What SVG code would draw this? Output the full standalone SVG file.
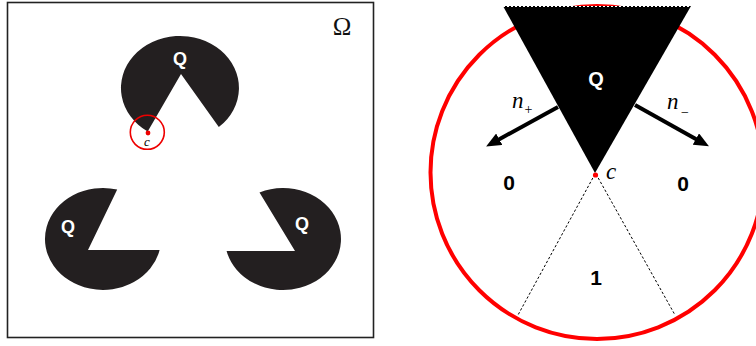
<svg xmlns="http://www.w3.org/2000/svg" width="756" height="346" viewBox="0 0 756 346">
<style>
.pac{fill:#231f20}
.ql{font-family:"Liberation Sans",Arial,sans-serif;font-weight:bold;fill:#fff;text-anchor:middle}
.num{font-family:"Liberation Sans",Arial,sans-serif;font-weight:bold;fill:#000;text-anchor:middle;font-size:21px}
.it{font-family:"Liberation Serif","Times New Roman",serif;font-style:italic;fill:#000}
.dot{stroke:#000;stroke-width:1;stroke-dasharray:2.5 2;fill:none}
.arr{stroke:#000;stroke-width:4;fill:none;marker-end:url(#head)}
</style>
<defs>
<marker id="head" viewBox="0 0 15 13" refX="2" refY="6.5" markerWidth="15" markerHeight="13" markerUnits="userSpaceOnUse" orient="auto">
<path d="M0,0 L15,6.5 L0,13 Z" fill="#000"/>
</marker>
</defs>
<rect x="0" y="0" width="756" height="346" fill="#fff"/>
<g id="left-panel">
<rect id="omega-frame" x="7.5" y="2.5" width="366" height="335" fill="none" stroke="#222" stroke-width="1.6"/>
<text x="342" y="35" font-family="'Liberation Serif','Times New Roman',serif" font-size="25" text-anchor="middle" fill="#111">Ω</text>
<g id="pac-top">
<path class="pac" d="M147.7 131.5 A59 52 0 1 1 218.8 127.1 L181 74 Z"/>
<text class="ql" x="180" y="65" font-size="18">Q</text>
</g>
<g id="pac-left">
<path class="pac" d="M117.2 189.5 A58 51 0 1 0 159.6 250 L88 250 Z"/>
<text class="ql" x="68" y="233" font-size="18">Q</text>
</g>
<g id="pac-right">
<path class="pac" d="M226.6 251 A58 51 0 1 0 259.5 192.4 L295 251 Z"/>
<text class="ql" x="302" y="230" font-size="18">Q</text>
</g>
<g id="c-marker">
<circle cx="147.3" cy="132.3" r="17" fill="none" stroke="#e00" stroke-width="1.6"/>
<circle cx="148" cy="133" r="2.4" fill="#e00"/>
<text class="it" x="147" y="146" font-size="13" text-anchor="middle">c</text>
</g>
</g>
<g id="right-panel">
<circle id="neighbourhood" cx="597" cy="172.5" r="166.5" fill="none" stroke="#f00" stroke-width="4"/>
<g id="Q-wedge">
<polygon points="503,6 691,6 595,173" fill="#000"/>
<line x1="503" y1="6.5" x2="691" y2="6.5" stroke="#fff" stroke-width="1" stroke-dasharray="2 2"/>
<text class="ql" x="596" y="86" font-size="20">Q</text>
</g>
<g id="connectors">
<line class="dot" x1="595" y1="174" x2="518" y2="315"/>
<line class="dot" x1="596" y1="174" x2="675" y2="315"/>
<path class="arr" d="M558 107 L497.5 140.2"/>
<path class="arr" d="M635 105 L697.6 140"/>
</g>
<circle cx="595.5" cy="175" r="2.6" fill="#f00"/>
<text class="it" x="606" y="179" font-size="23">c</text>
<g id="label-nplus">
<text class="it" x="512" y="108" font-size="23">n</text>
<text x="528.5" y="114" font-family="'Liberation Serif',serif" font-size="14" text-anchor="middle">+</text>
</g>
<g id="label-nminus">
<text class="it" x="667" y="109" font-size="23">n</text>
<text x="685" y="117" font-family="'Liberation Serif',serif" font-size="14" text-anchor="middle">−</text>
</g>
<text class="num" x="509" y="190">0</text>
<text class="num" x="683" y="191">0</text>
<text class="num" x="596" y="285">1</text>
</g>
</svg>
